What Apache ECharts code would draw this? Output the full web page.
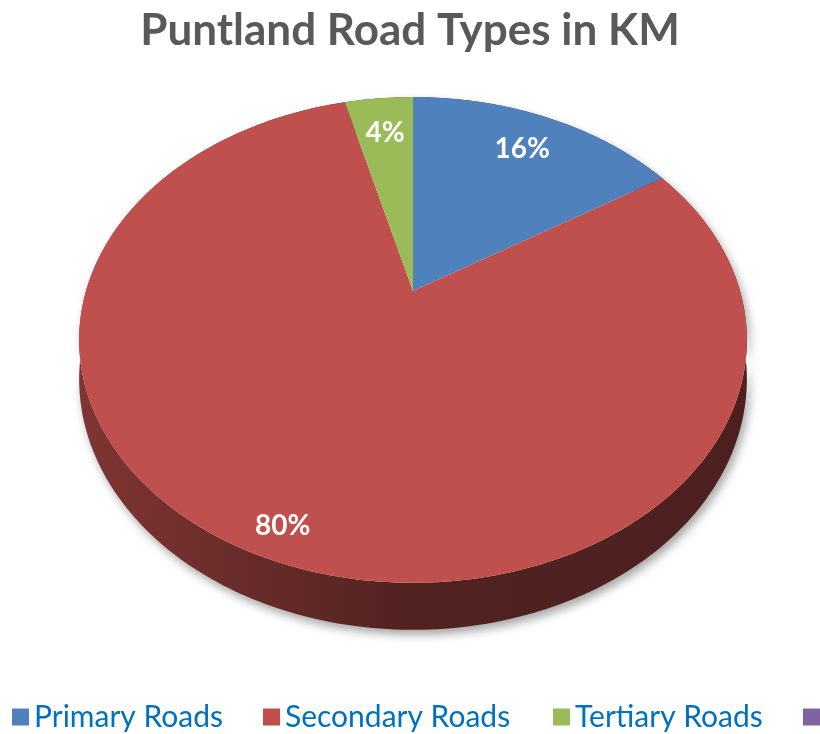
<!DOCTYPE html>
<html>
<head>
<meta charset="utf-8">
<script src="https://cdn.jsdelivr.net/npm/echarts@6.0.0/dist/echarts.min.js"></script>
<style>
  html, body { margin: 0; padding: 0; background: #fff; }
  #chart { width: 820px; height: 734px; }
</style>
</head>
<body>
<div id="chart"></div>
<script>
// 数据
const categories = ['Primary Roads', 'Secondary Roads', 'Tertiary Roads', 'Other Roads']
const values = [16, 80, 4, 0]
const colors = ['#4F81BD', '#C0504D', '#9BBB59', '#8064A2']

// 图例位置（每项单独一个 legend，保证与原图对齐）
const legendLefts = [12, 263, 553, 803]

// 透视饼图参数
const PIE = { cx: 413, cy: 291, a: 327, b: 233, k: 0.2016, depth: 37.5, left: 78, right: 748 }

const total = values.reduce((s, v) => s + v, 0)
const startAngles = []
values.reduce((acc, v, i) => { startAngles[i] = acc; return acc + v / total * Math.PI * 2 }, 0)

function project(r, theta) {
  const u = r * Math.sin(theta)
  const v = r * Math.cos(theta)
  const d = 1 + PIE.k * v
  return [PIE.cx + PIE.a * u / d, PIE.cy - PIE.b * v / d, d]
}

// 侧面加深
function shade(color, f) {
  const c = echarts.color.parse(color)
  return 'rgb(' + Math.round(c[0] * f) + ',' + Math.round(c[1] * f) + ',' + Math.round(c[2] * f) + ')'
}

function sliceRenderer(idx) {
  return function (params, api) {
    const value = api.value(0)
    if (!value) return { type: 'group', children: [] }
    const share = value / total
    const start = startAngles[idx]
    const end = start + share * Math.PI * 2
    const steps = Math.max(2, Math.ceil((end - start) / (Math.PI / 180)))
    const rim = []
    const base = []
    for (let s = 0; s <= steps; s++) {
      const p = project(1, start + (end - start) * s / steps)
      rim.push([p[0], p[1]])
      base.push([p[0], p[1] + PIE.depth / p[2]])
    }
    const apex = project(0, 0)
    const color = colors[idx]

    // 标签位置
    const mid = (start + end) / 2
    const lp = project(share > 0.5 ? 0.9 : 0.79, mid)

    return {
      type: 'group',
      children: [
        {
          type: 'polygon',
          z2: 1,
          shape: { points: rim.concat(base.slice().reverse()) },
          style: {
            fill: new echarts.graphic.LinearGradient(PIE.left, 0, PIE.right, 0, [
              { offset: 0, color: shade(color, 0.66) },
              { offset: 0.3, color: shade(color, 0.52) },
              { offset: 0.5, color: shade(color, 0.42) },
              { offset: 1, color: shade(color, 0.4) }
            ], true),
            shadowBlur: 10,
            shadowColor: 'rgba(0, 0, 0, 0.35)',
            shadowOffsetX: 3,
            shadowOffsetY: 5
          }
        },
        {
          type: 'polygon',
          z2: 10,
          shape: { points: [[apex[0], apex[1]]].concat(rim) },
          style: { fill: color }
        },
        {
          type: 'text',
          z2: 20,
          style: {
            text: Math.round(share * 100) + '%',
            x: lp[0],
            y: lp[1],
            fill: '#fff',
            font: 'bold 28px Lato',
            align: 'center',
            verticalAlign: 'middle'
          }
        }
      ]
    }
  }
}

const chart = echarts.init(document.getElementById('chart'))

chart.setOption({
  backgroundColor: '#fff',
  animation: false,
  title: {
    text: 'Puntland Road Types in KM',
    left: 'center',
    top: 4,
    textStyle: { fontFamily: 'Lato', fontWeight: 'bold', fontSize: 44, color: '#595959' }
  },
  legend: categories.map((name, i) => ({
    data: [{ name, icon: 'rect' }],
    left: legendLefts[i],
    top: 702,
    padding: 0,
    itemWidth: 17,
    itemHeight: 17,
    textStyle: { fontFamily: 'Lato', fontSize: 30, color: '#0070C0' }
  })),
  series: categories.map((name, i) => ({
    type: 'custom',
    name,
    coordinateSystem: 'none',
    itemStyle: { color: colors[i] },
    data: [[values[i]]],
    renderItem: sliceRenderer(i)
  }))
})
</script>
</body>
</html>
